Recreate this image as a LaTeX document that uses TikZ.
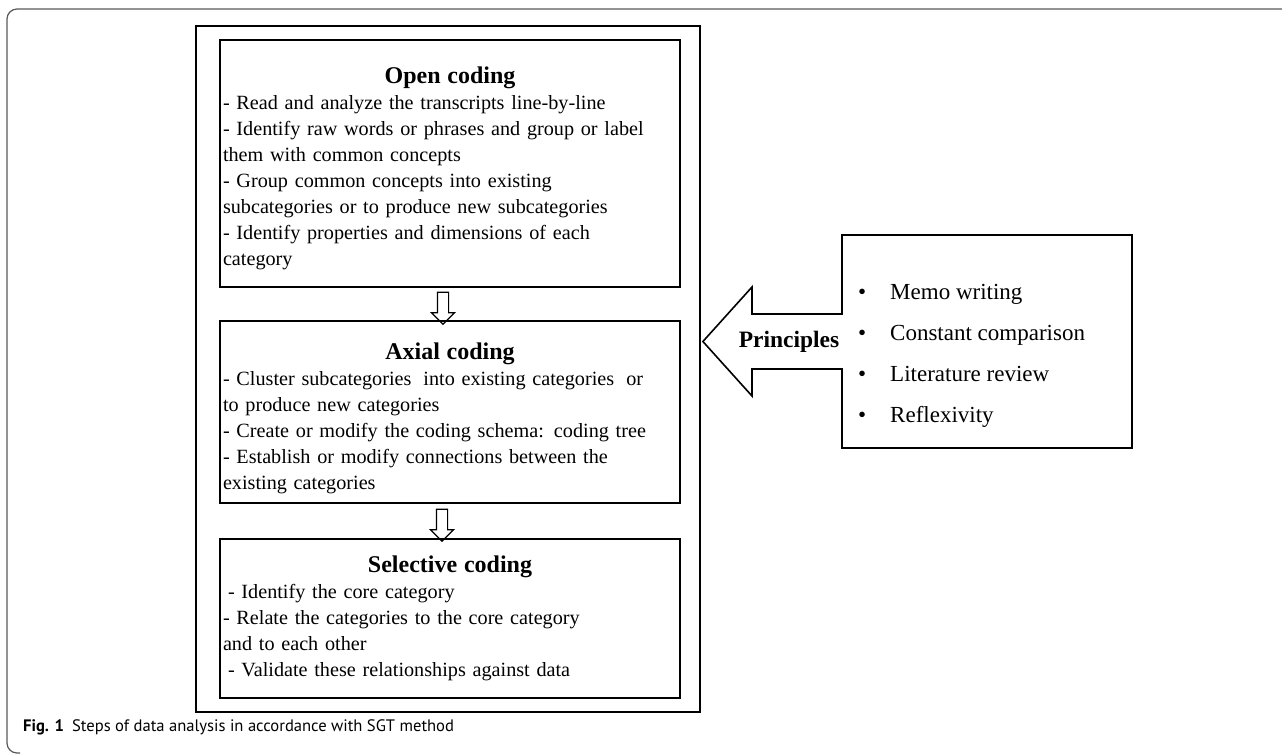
\documentclass[tikz,border=0pt]{standalone}
\usepackage{fontspec}
\setmainfont{Liberation Serif}
\newfontfamily\capfont{PT Sans}
\usetikzlibrary{shapes,arrows,positioning,calc}
\tikzstyle{stage}=[rectangle,draw,line width=1.6pt,minimum width=460pt,text width=454pt,inner xsep=3pt,align=left,font=\fontsize{20.2}{26}\selectfont]
\tikzstyle{downarr}=[single arrow,draw,line width=1.2pt,shape border rotate=270,minimum height=32pt,minimum width=22pt,single arrow head extend=6pt,inner sep=5pt]
\tikzstyle{frame}=[rectangle,draw,line width=1.8pt,minimum width=504pt,minimum height=686pt]
\newcommand{\stagetitle}[2]{\makebox[\linewidth]{\rule{0pt}{#2}\fontsize{24}{26}\selectfont\bfseries #1}}
\newcommand{\bul}{\makebox[32pt][l]{\textbullet}}

\begin{document}
\begin{tikzpicture}[x=1pt,y=-1pt]
\useasboundingbox (0,0) rectangle (1282,753);
% page frame and caption
\draw[gray!70!black,line width=1.2pt,rounded corners=10pt] (1282,9) -- (7,9) -- (7,753) -- (20,753);
\node[anchor=west,inner sep=0pt,font=\capfont\fontsize{16.6}{18}\selectfont] (cap) at (23,727) {\textbf{Fig. 1}\hspace{8pt}Steps of data analysis in accordance with SGT method};
% the three coding steps
\node[frame] (steps) at (448,369) {};
\node[stage,minimum height=247pt] (open) at (450,163.5) {\stagetitle{Open coding}{27pt}\\
- Read and analyze the transcripts line-by-line\\
- Identify raw words or phrases and group or label\\
them with common concepts\\
- Group common concepts into existing\\
subcategories or to produce new subcategories\\
- Identify properties and dimensions of each\\
category};
\node[stage,minimum height=182pt] (axial) at (450,412) {\stagetitle{Axial coding}{30pt}\\
- Cluster subcategories\hspace{12pt}into existing categories\hspace{12pt}or\\
to produce new categories\\
- Create or modify the coding schema: coding tree\\
- Establish or modify connections between the\\
existing categories};
\node[stage,minimum height=159pt] (sel) at (450,618.5) {\stagetitle{Selective coding}{17pt}\\
\hspace{5pt}- Identify the core category\\
- Relate the categories to the core category\\
and to each other\\
\hspace{5pt}- Validate these relationships against data};
\node[downarr] (a1) at ($(open.south)!0.5!(axial.north)+(-7,1.5)$) {};
\node[downarr] (a2) at ($(axial.south)!0.5!(sel.north)+(-8,1.5)$) {};
% principles
\coordinate (pj) at (842,341.5);
\draw[line width=1.6pt,line join=miter] (842,314) -- (842,235) -- (1132,235) -- (1132,448) -- (842,448) -- (842,369) -- (752,369) -- (752,396) -- ($(steps.east |- pj)+(2,0)$) -- (752,287) -- (752,314) -- cycle;
\node[font=\fontsize{23.5}{26}\selectfont\bfseries] (plabel) at (789,342) {Principles};
\node[anchor=west,align=left,inner sep=0pt,font=\fontsize{23}{41}\selectfont] (plist) at (858,356) {\bul Memo writing\\
\bul Constant comparison\\
\bul Literature review\\
\bul Reflexivity};
\end{tikzpicture}
\end{document}
